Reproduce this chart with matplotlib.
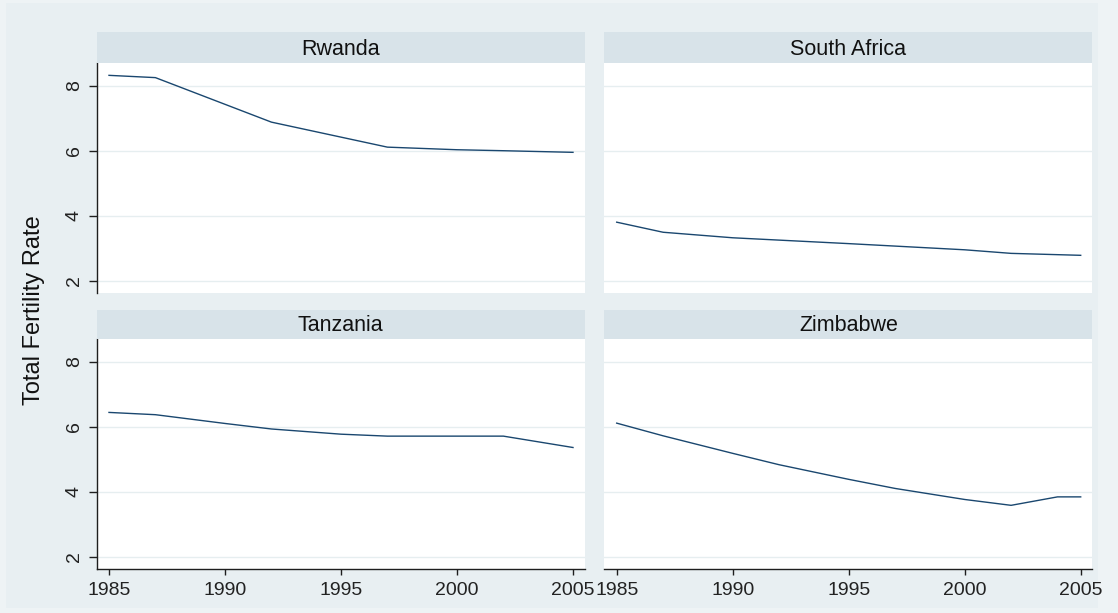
import matplotlib
matplotlib.use("Agg")
import matplotlib.pyplot as plt

plt.rcParams['font.family'] = ['Liberation Sans', 'DejaVu Sans']

countries = ["Rwanda", "South Africa", "Tanzania", "Zimbabwe"]

rwanda_years = [1985, 1987, 1992, 1997, 2000, 2002, 2005]
rwanda_tfr = [8.32, 8.25, 6.88, 6.11, 6.03, 6.00, 5.95]

safrica_years = [1985, 1987, 1990, 1995, 2000, 2002, 2005]
safrica_tfr = [3.80, 3.49, 3.32, 3.14, 2.95, 2.84, 2.78]

tanzania_years = [1985, 1987, 1990, 1992, 1995, 1997, 2002, 2005]
tanzania_tfr = [6.44, 6.37, 6.10, 5.93, 5.77, 5.71, 5.71, 5.36]

zimbabwe_years = [1985, 1987, 1990, 1992, 1995, 1997, 2000, 2002, 2004, 2005]
zimbabwe_tfr = [6.11, 5.72, 5.18, 4.83, 4.38, 4.10, 3.76, 3.58, 3.84, 3.84]

series = {
    "Rwanda": (rwanda_years, rwanda_tfr),
    "South Africa": (safrica_years, safrica_tfr),
    "Tanzania": (tanzania_years, tanzania_tfr),
    "Zimbabwe": (zimbabwe_years, zimbabwe_tfr),
}

x_ticks = [1985, 1990, 1995, 2000, 2005]
y_ticks = [2, 4, 6, 8]
y_label = "Total Fertility Rate"

BG = "#e8eff2"
STRIP = "#d8e3e9"
GRID = "#e6eef0"
LINE = "#1a476f"
AXC = "#1e1e1e"

W, H = 1118, 613
fig = plt.figure(figsize=(W / 100, H / 100), dpi=100)
fig.patch.set_facecolor("#eef3f5")

def px_rect(x0, y0, x1, y1):
    return [x0 / W, 1 - y1 / H, (x1 - x0) / W, (y1 - y0) / H]

bg_ax = fig.add_axes(px_rect(6, 3, 1098, 608), zorder=-10)
bg_ax.set_facecolor(BG)
bg_ax.set_xticks([])
bg_ax.set_yticks([])
for s in bg_ax.spines.values():
    s.set_visible(False)

cols = [(96.7, 584.6), (604.4, 1092.3)]
rows = [((32, 63), (63, 293)), ((310, 339), (339, 569))]

for i, name in enumerate(countries):
    r, c = divmod(i, 2)
    x0, x1 = cols[c]
    (sy0, sy1), (py0, py1) = rows[r]
    ax = fig.add_axes(px_rect(x0, py0, x1, py1))
    ax.set_facecolor("white")
    yrs, vals = series[name]
    ax.plot(yrs, vals, color=LINE, lw=1.0, zorder=3)
    ax.set_xlim(1984.47, 2005.5)
    ax.set_ylim(1.62, 8.70)
    ax.set_yticks(y_ticks)
    ax.set_xticks(x_ticks)
    ax.grid(axis="y", color=GRID, lw=1.0, zorder=1)
    ax.grid(axis="x", visible=False)
    for s in ax.spines.values():
        s.set_visible(False)
    if c == 0:
        ax.spines["left"].set_visible(True)
        ax.spines["left"].set_color(AXC)
        ax.spines["left"].set_linewidth(1.0)
        ax.tick_params(axis="y", length=5.8, width=1, color=AXC, labelsize=14, pad=4.3,
                       labelcolor="#222222")
        for lab in ax.get_yticklabels():
            lab.set_rotation(90)
            lab.set_va("center")
    else:
        ax.tick_params(axis="y", left=False, labelleft=False)
    if r == 1:
        ax.spines["bottom"].set_visible(True)
        ax.spines["bottom"].set_color(AXC)
        ax.spines["bottom"].set_linewidth(1.0)
        ax.tick_params(axis="x", length=4.3, width=1, color=AXC, labelsize=14, pad=5,
                       labelcolor="#222222")
    else:
        ax.tick_params(axis="x", bottom=False, labelbottom=False)

    sax = fig.add_axes(px_rect(x0, sy0, x1, sy1))
    sax.set_facecolor(STRIP)
    sax.set_xticks([])
    sax.set_yticks([])
    for s in sax.spines.values():
        s.set_visible(False)
    sax.text(0.5, 0.45, name, ha="center", va="center", fontsize=15.5, color="#111111",
             transform=sax.transAxes)

fig.text(34 / W, 1 - 310 / H, y_label, rotation=90, ha="center", va="center",
         fontsize=17, color="#111111")

fig.savefig("out.png", dpi=100, facecolor=fig.get_facecolor())
